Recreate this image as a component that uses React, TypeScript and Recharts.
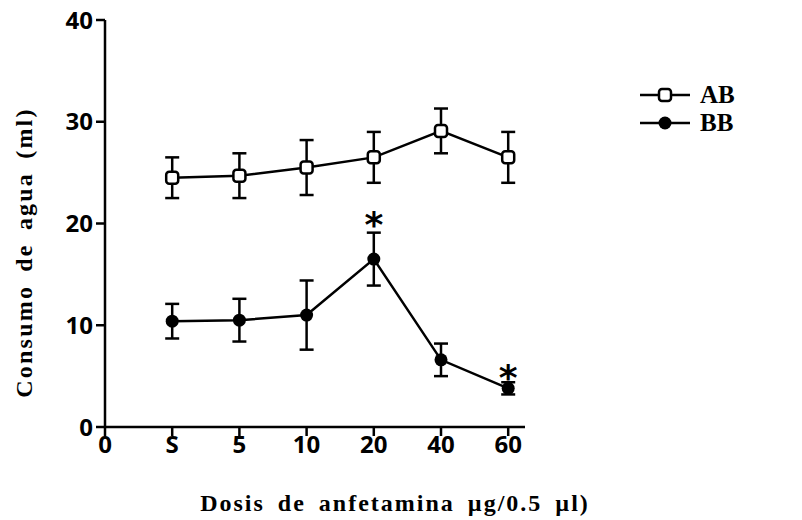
import React from 'react';
import { LineChart, Line, XAxis, YAxis, ErrorBar, Legend, LabelList } from 'recharts';

// dose groups, first label sits on the y axis
const doseLabels = ['0', 'S', '5', '10', '20', '40', '60'];
const dosePos = [1, 2, 3, 4, 5, 6];

const abMean = [24.5, 24.7, 25.5, 26.5, 29.1, 26.5];
const abSem = [2.0, 2.2, 2.7, 2.5, 2.2, 2.5];
const bbMean = [10.4, 10.5, 11.0, 16.5, 6.6, 3.8];
const bbSem = [1.7, 2.1, 3.4, 2.6, 1.6, 0.6];
// height (ml) where the significance star is drawn
const starLevel = [null, null, null, 20.8, null, 5.8];

const yTicks = [0, 10, 20, 30, 40];
const xTicks = [0, 1, 2, 3, 4, 5, 6];

const data = dosePos.map((x, i) => ({
  x,
  ab: abMean[i],
  abErr: abSem[i],
  bb: bbMean[i],
  bbErr: bbSem[i],
  star: starLevel[i],
}));

const titleStyle: React.CSSProperties = {
  fontFamily: '"Liberation Serif", "Times New Roman", serif',
  fontWeight: 700,
  fontSize: 24,
  letterSpacing: 1.8,
  wordSpacing: 5,
  fill: '#000',
};

const tickStyle = {
  fontFamily: '"Open Sans", sans-serif',
  fontWeight: 700,
  fontSize: 24,
  fill: '#000',
};

const OpenSquare = (p: any) => {
  if (p.cx == null || p.cy == null) return <g key={p.index} />;
  return (
    <rect key={p.index} x={p.cx - 6} y={p.cy - 6} width={12} height={12} rx={3}
      fill="#fff" stroke="#000" strokeWidth={2.5} />
  );
};

const FilledDot = (p: any) => {
  if (p.cx == null || p.cy == null) return <g key={p.index} />;
  return <circle key={p.index} cx={p.cx} cy={p.cy} r={6.5} fill="#000" />;
};

const StarLabel = (p: any) => {
  if (p.value == null || p.x == null) return null;
  return (
    <text x={p.x} y={p.y + 22} textAnchor="middle"
      style={{ fontFamily: '"DejaVu Sans", sans-serif', fontWeight: 700, fontSize: 36, fill: '#000' }}>
      *
    </text>
  );
};

function YTitle(props: any) {
  const vb = props.viewBox || { x: 0, y: 20, width: 105, height: 407 };
  const cx = vb.x + 24;
  const cy = vb.y + vb.height / 2 + 29;
  return (
    <text x={cx} y={cy} transform={`rotate(-90 ${cx} ${cy})`} textAnchor="middle"
      dominantBaseline="central" style={{ ...titleStyle, letterSpacing: 2.2 }}>
      Consumo de agua (ml)
    </text>
  );
}

function XTitle() {
  return (
    <text x={395} y={511} textAnchor="middle" style={{ ...titleStyle, letterSpacing: 2 }}>
      Dosis de anfetamina µg/0.5 µl)
    </text>
  );
}

const legendItems = [
  { name: 'AB', filled: false },
  { name: 'BB', filled: true },
];

const renderLegend = () => (
  <div>
    {legendItems.map((item) => (
      <div key={item.name} style={{ display: 'flex', alignItems: 'center', height: 28 }}>
        <svg width={60} height={28}>
          <line x1={0} y1={14} x2={50} y2={14} stroke="#000" strokeWidth={2.5} />
          {item.filled
            ? <circle cx={25} cy={14} r={6.5} fill="#000" />
            : <rect x={19} y={8} width={12} height={12} rx={3} fill="#fff" stroke="#000" strokeWidth={2.5} />}
        </svg>
        <span style={{ fontFamily: '"Liberation Serif", serif', fontWeight: 700, fontSize: 25 }}>
          {item.name}
        </span>
      </div>
    ))}
  </div>
);

export default function App() {
  return (
    <div style={{ position: 'absolute', left: 0, top: 0 }}>
      <LineChart width={802} height={520} data={data}
        margin={{ top: 20, right: 167, bottom: 33, left: 0 }}>
        <XAxis
          dataKey="x"
          type="number"
          domain={[0, 6.25]}
          ticks={xTicks}
          interval={0}
          tickFormatter={(v: number) => doseLabels[v]}
          tick={tickStyle}
          tickSize={9}
          tickMargin={0}
          height={60}
          axisLine={{ stroke: '#000', strokeWidth: 2.5 }}
          tickLine={{ stroke: '#000', strokeWidth: 2.5 }}
          label={<XTitle />}
        />
        <YAxis
          domain={[0, 40]}
          ticks={yTicks}
          interval={0}
          width={105}
          tick={tickStyle}
          tickSize={9}
          tickMargin={3}
          axisLine={{ stroke: '#000', strokeWidth: 2.5 }}
          tickLine={{ stroke: '#000', strokeWidth: 2.5 }}
          label={<YTitle />}
        />
        <Legend
          layout="vertical"
          verticalAlign="top"
          align="right"
          content={renderLegend}
          wrapperStyle={{ top: 81, left: 640, width: 110 }}
        />
        <Line dataKey="ab" name="AB" stroke="#000" strokeWidth={2.5} dot={OpenSquare}
          activeDot={false} isAnimationActive={false}>
          <ErrorBar dataKey="abErr" width={7} stroke="#000" strokeWidth={2.5} direction="y" />
        </Line>
        <Line dataKey="bb" name="BB" stroke="#000" strokeWidth={2.5} dot={FilledDot}
          activeDot={false} isAnimationActive={false}>
          <ErrorBar dataKey="bbErr" width={7} stroke="#000" strokeWidth={2.5} direction="y" />
        </Line>
        <Line dataKey="star" stroke="none" dot={false} activeDot={false} legendType="none"
          isAnimationActive={false}>
          <LabelList dataKey="star" content={StarLabel} />
        </Line>
      </LineChart>
    </div>
  );
}
